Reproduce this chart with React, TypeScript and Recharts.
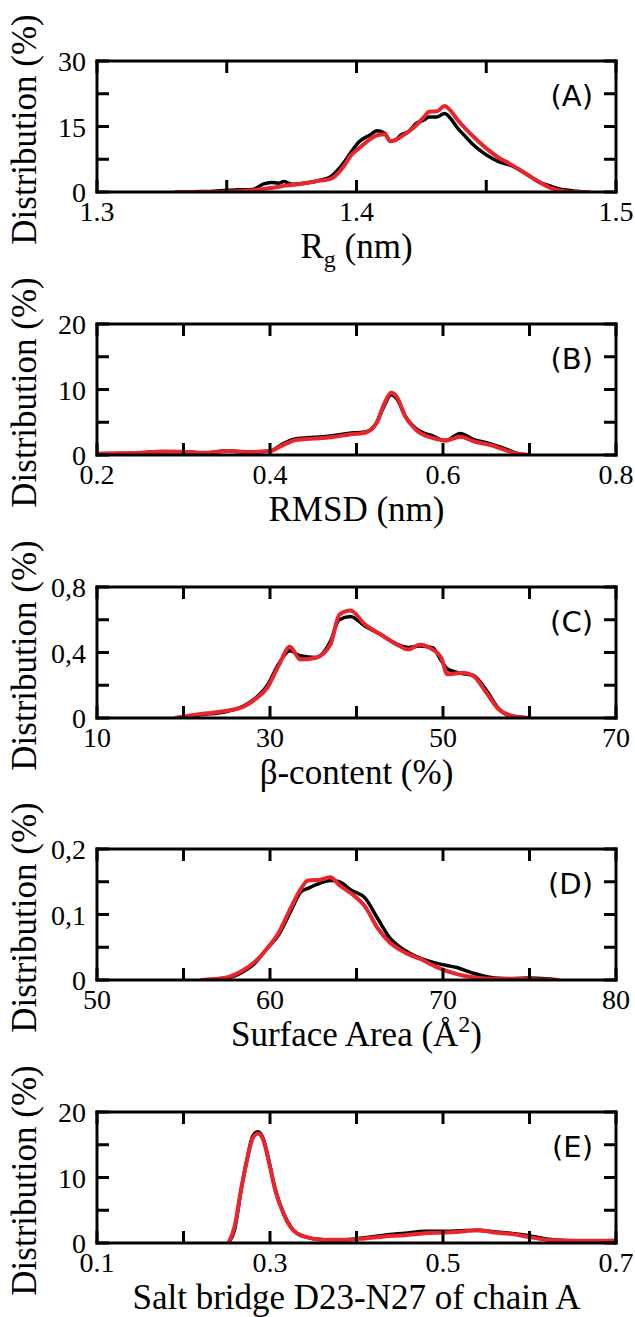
import { LineChart, Line, XAxis, YAxis } from "recharts";

// ---- data ----

// (A) radius of gyration, nm
const rgX = [1.33, 1.34, 1.345, 1.35, 1.355, 1.36, 1.364, 1.367, 1.37, 1.372, 1.375, 1.38, 1.386, 1.39, 1.395, 1.398, 1.401, 1.405, 1.408, 1.411, 1.413, 1.415, 1.417, 1.42, 1.423, 1.426, 1.428, 1.431, 1.434, 1.436, 1.439, 1.442, 1.445, 1.45, 1.455, 1.459, 1.465, 1.47, 1.475, 1.48, 1.485, 1.49];
const rgBlack = [0, 0.1, 0.2, 0.4, 0.5, 0.6, 1.8, 2.2, 2.0, 2.4, 1.8, 2.0, 2.7, 3.5, 6.6, 9.2, 11.5, 13.0, 14.0, 13.4, 11.7, 11.9, 13.0, 13.8, 15.7, 16.5, 17.2, 17.2, 18.0, 17.0, 14.6, 12.7, 10.8, 8.5, 6.9, 6.2, 4.3, 2.4, 1.3, 0.5, 0.2, 0];
const rgRed = [0, 0, 0, 0.1, 0.2, 0.4, 0.7, 0.9, 1.2, 1.4, 1.6, 2.0, 2.6, 3.0, 5.8, 8.5, 10.0, 12.0, 13.0, 13.2, 11.6, 11.9, 12.6, 13.8, 15.3, 17.2, 18.4, 18.5, 19.7, 18.8, 16.5, 14.5, 12.7, 10.0, 7.8, 6.5, 4.3, 2.4, 0.9, 0.2, 0, 0];

// (B) RMSD, nm
const rmsdX = [0.2, 0.22, 0.25, 0.275, 0.3, 0.325, 0.35, 0.375, 0.4, 0.415, 0.43, 0.45, 0.47, 0.49, 0.51, 0.523, 0.532, 0.54, 0.547, 0.556, 0.57, 0.588, 0.603, 0.62, 0.635, 0.655, 0.673, 0.69, 0.7];
const rmsdBlack = [0.15, 0.2, 0.3, 0.5, 0.5, 0.3, 0.65, 0.4, 0.6, 1.7, 2.5, 2.7, 2.9, 3.3, 3.5, 4.9, 7.5, 9.2, 8.5, 6.0, 3.9, 2.9, 2.2, 3.3, 2.4, 1.7, 0.9, 0.1, 0];
const rmsdRed = [0.2, 0.25, 0.35, 0.55, 0.5, 0.35, 0.6, 0.45, 0.6, 1.5, 2.3, 2.5, 2.7, 3.1, 3.4, 4.8, 7.8, 9.5, 8.8, 6.0, 3.7, 2.6, 2.2, 2.8, 2.1, 1.5, 0.7, 0.1, 0];

// (C) beta content, %
const betaX = [19, 22, 25, 27, 28.3, 29.7, 31, 32.3, 33.5, 35.3, 37, 38, 39.3, 41, 42.8, 44.7, 46, 47.3, 48.8, 49.8, 50.5, 52.4, 53.5, 55, 56.4, 57.7, 60];
const betaBlack = [0, 0.02, 0.04, 0.075, 0.12, 0.2, 0.33, 0.41, 0.38, 0.37, 0.47, 0.6, 0.62, 0.56, 0.51, 0.45, 0.43, 0.44, 0.43, 0.35, 0.3, 0.27, 0.26, 0.17, 0.06, 0.015, 0];
const betaRed = [0, 0.024, 0.044, 0.07, 0.115, 0.186, 0.32, 0.435, 0.357, 0.368, 0.45, 0.63, 0.656, 0.57, 0.51, 0.448, 0.418, 0.448, 0.418, 0.368, 0.267, 0.277, 0.257, 0.156, 0.055, 0.018, 0];

// (D) surface area, A^2
const sasaX = [56, 57.5, 58.4, 59.1, 59.8, 60.5, 61.2, 61.8, 62.2, 62.9, 63.5, 64.0, 64.7, 65.5, 66.2, 66.9, 67.8, 68.7, 69.7, 70.8, 71.8, 73, 74, 75, 76.7];
const sasaBlack = [0, 0.003, 0.012, 0.025, 0.047, 0.069, 0.105, 0.135, 0.14, 0.148, 0.152, 0.15, 0.137, 0.125, 0.095, 0.065, 0.045, 0.033, 0.025, 0.019, 0.01, 0.003, 0.002, 0.003, 0];
const sasaRed = [0, 0.004, 0.014, 0.027, 0.047, 0.072, 0.11, 0.14, 0.152, 0.153, 0.157, 0.145, 0.132, 0.112, 0.08, 0.058, 0.042, 0.032, 0.019, 0.009, 0.004, 0.002, 0.002, 0.001, 0];

// (E) salt bridge distance, nm
const saltX = [0.252, 0.259, 0.2665, 0.2735, 0.28, 0.286, 0.292, 0.299, 0.306, 0.3155, 0.325, 0.339, 0.362, 0.386, 0.409, 0.4325, 0.456, 0.479, 0.503, 0.526, 0.54, 0.559, 0.5775, 0.596, 0.62, 0.643, 0.666, 0.7];
const saltBlack = [0, 2.0, 8.0, 12.8, 16.3, 17.0, 16.0, 12.4, 8.2, 4.6, 2.3, 1.0, 0.5, 0.5, 0.8, 1.2, 1.5, 1.8, 1.8, 1.9, 1.9, 1.7, 1.5, 1.2, 0.6, 0.3, 0.2, 0.2];
const saltRed = [0, 2.5, 8.1, 12.7, 16.0, 16.7, 15.8, 12.2, 8.1, 4.5, 2.2, 1.0, 0.5, 0.5, 0.7, 1.0, 1.2, 1.5, 1.6, 1.8, 2.0, 1.6, 1.4, 1.0, 0.5, 0.4, 0.35, 0.4];

// ticks (minor ticks have an empty label)
const rgTicks = [1.3, 1.35, 1.4, 1.45, 1.5];
const rgTickLabels = ["1.3", "", "1.4", "", "1.5"];
const rmsdTicks = [0.2, 0.3, 0.4, 0.5, 0.6, 0.7, 0.8];
const rmsdTickLabels = ["0.2", "", "0.4", "", "0.6", "", "0.8"];
const betaTicks = [10, 20, 30, 40, 50, 60, 70];
const betaTickLabels = ["10", "", "30", "", "50", "", "70"];
const sasaTicks = [50, 55, 60, 65, 70, 75, 80];
const sasaTickLabels = ["50", "", "60", "", "70", "", "80"];
const saltTicks = [0.1, 0.2, 0.3, 0.4, 0.5, 0.6, 0.7];
const saltTickLabels = ["0.1", "", "0.3", "", "0.5", "", "0.7"];

const y30Ticks = [0, 7.5, 15, 22.5, 30];
const y30Labels = ["0", "", "15", "", "30"];
const y20Ticks = [0, 5, 10, 15, 20];
const y20Labels = ["0", "", "10", "", "20"];
const y08Ticks = [0, 0.2, 0.4, 0.6, 0.8];
const y08Labels = ["0", "", "0,4", "", "0,8"];
const y02Ticks = [0, 0.05, 0.1, 0.15, 0.2];
const y02Labels = ["0", "", "0,1", "", "0,2"];

const panelLetters = ["(A)", "(B)", "(C)", "(D)", "(E)"];

// ---- layout ----
const W = 635;
const FRAME_LEFT = 97;
const FRAME_RIGHT = 616;
const FRAME_H = 131;
const PAD_TOP = 20;
const PAD_BOTTOM = 45;
const AX = 1; // axis thickness reserved by recharts
const frameTops = [61, 324, 587, 849, 1112];
const SERIF = "Liberation Serif, Times New Roman, serif";
const BLACK = "#000000";
const RED = "#e8262b";
const TITLE_FONT = 35;

const zip = (xs: number[], a: number[], b: number[]) =>
  xs.map((x, i) => ({ x, black: a[i], red: b[i] }));

const panels = [
  { data: zip(rgX, rgBlack, rgRed), xDomain: [1.3, 1.5], xTicks: rgTicks, xLabels: rgTickLabels, yDomain: [0, 30], yTicks: y30Ticks, yLabels: y30Labels },
  { data: zip(rmsdX, rmsdBlack, rmsdRed), xDomain: [0.2, 0.8], xTicks: rmsdTicks, xLabels: rmsdTickLabels, yDomain: [0, 20], yTicks: y20Ticks, yLabels: y20Labels },
  { data: zip(betaX, betaBlack, betaRed), xDomain: [10, 70], xTicks: betaTicks, xLabels: betaTickLabels, yDomain: [0, 0.8], yTicks: y08Ticks, yLabels: y08Labels },
  { data: zip(sasaX, sasaBlack, sasaRed), xDomain: [50, 80], xTicks: sasaTicks, xLabels: sasaTickLabels, yDomain: [0, 0.2], yTicks: y02Ticks, yLabels: y02Labels },
  { data: zip(saltX, saltBlack, saltRed), xDomain: [0.1, 0.7], xTicks: saltTicks, xLabels: saltTickLabels, yDomain: [0, 20], yTicks: y20Ticks, yLabels: y20Labels },
];

const labelFor = (ticks: number[], labels: string[], v: number) => {
  const i = ticks.findIndex((t) => Math.abs(t - v) < 1e-9);
  return i >= 0 ? labels[i] : "";
};

const TICK_LEN = 12;
const TICK_FONT = 28;

function makeTick(side: "bottom" | "top" | "left" | "right", ticks: number[], labels: string[]) {
  return (props: any) => {
    const { x, y, payload } = props;
    const label = side === "bottom" || side === "left" ? labelFor(ticks, labels, payload.value) : "";
    let line;
    if (side === "bottom") line = { x1: x, y1: y, x2: x, y2: y - TICK_LEN };
    else if (side === "top") line = { x1: x, y1: y, x2: x, y2: y + TICK_LEN };
    else if (side === "left") line = { x1: x, y1: y, x2: x + TICK_LEN, y2: y };
    else line = { x1: x, y1: y, x2: x - TICK_LEN, y2: y };
    return (
      <g>
        <line {...line} stroke={BLACK} strokeWidth={3} />
        {label && side === "bottom" && (
          <text x={x} y={y + 29} textAnchor="middle" fontFamily={SERIF} fontSize={TICK_FONT} fill={BLACK}>
            {label}
          </text>
        )}
        {label && side === "left" && (
          <text x={x - 11} y={y + 10} textAnchor="end" fontFamily={SERIF} fontSize={TICK_FONT} fill={BLACK}>
            {label}
          </text>
        )}
      </g>
    );
  };
}

const frameLine = { stroke: BLACK, strokeWidth: 3, strokeLinecap: "square" as const };

function Panel({ p, top }: { p: (typeof panels)[number]; top: number }) {
  return (
    <div style={{ position: "absolute", left: 0, top: top - PAD_TOP }}>
      <LineChart
        width={W}
        height={PAD_TOP + FRAME_H + PAD_BOTTOM}
        data={p.data}
        margin={{ top: PAD_TOP - AX, bottom: PAD_BOTTOM - AX, left: FRAME_LEFT - AX, right: W - FRAME_RIGHT - AX }}
      >
        <XAxis dataKey="x" type="number" domain={p.xDomain} ticks={p.xTicks} interval={0} height={AX} tickSize={0} tickMargin={0} tickLine={false} axisLine={frameLine} tick={makeTick("bottom", p.xTicks, p.xLabels)} allowDataOverflow />
        <XAxis xAxisId="top" orientation="top" dataKey="x" type="number" domain={p.xDomain} ticks={p.xTicks} interval={0} height={AX} tickSize={0} tickMargin={0} tickLine={false} axisLine={frameLine} tick={makeTick("top", p.xTicks, p.xLabels)} allowDataOverflow />
        <YAxis type="number" domain={p.yDomain} ticks={p.yTicks} interval={0} width={AX} tickSize={0} tickMargin={0} tickLine={false} axisLine={frameLine} tick={makeTick("left", p.yTicks, p.yLabels)} allowDataOverflow />
        <YAxis yAxisId="right" orientation="right" type="number" domain={p.yDomain} ticks={p.yTicks} interval={0} width={AX} tickSize={0} tickMargin={0} tickLine={false} axisLine={frameLine} tick={makeTick("right", p.yTicks, p.yLabels)} allowDataOverflow />
        <Line type="monotone" dataKey="black" stroke={BLACK} strokeWidth={3.5} dot={false} activeDot={false} isAnimationActive={false} strokeLinejoin="round" />
        <Line type="monotone" dataKey="red" stroke={RED} strokeWidth={4} dot={false} activeDot={false} isAnimationActive={false} strokeLinejoin="round" />
      </LineChart>
    </div>
  );
}

export default function App() {
  const cx = (FRAME_LEFT + FRAME_RIGHT) / 2;
  const titleY = (i: number) => frameTops[i] + FRAME_H + 66;
  return (
    <div style={{ position: "absolute", left: 0, top: 0, width: W, height: 1317, background: "#fff", overflow: "hidden" }}>
      {panels.map((p, i) => (
        <Panel key={i} p={p} top={frameTops[i]} />
      ))}
      <svg width={W} height={1317} style={{ position: "absolute", left: 0, top: 0, pointerEvents: "none" }}>
        {frameTops.map((t, i) => (
          <g key={i}>
            <text transform={`translate(36,${t + FRAME_H / 2 + 3}) rotate(-90)`} textAnchor="middle" fontFamily={SERIF} fontSize={TITLE_FONT} fill={BLACK}>
              Distribution (%)
            </text>
            <text x={593} y={t + 45} textAnchor="end" fontFamily="DejaVu Sans, sans-serif" fontSize={29} fill={BLACK}>
              {panelLetters[i]}
            </text>
          </g>
        ))}
        <text x={cx} y={titleY(0)} textAnchor="middle" fontFamily={SERIF} fontSize={TITLE_FONT} fill={BLACK}>
          R<tspan fontSize={24} dy={9}>g</tspan>
          <tspan dy={-9}> (nm)</tspan>
        </text>
        <text x={cx} y={titleY(1)} textAnchor="middle" fontFamily={SERIF} fontSize={TITLE_FONT} fill={BLACK}>
          RMSD (nm)
        </text>
        <text x={cx} y={titleY(2)} textAnchor="middle" fontFamily={SERIF} fontSize={TITLE_FONT} fill={BLACK}>
          β-content (%)
        </text>
        <text x={cx} y={titleY(3)} textAnchor="middle" fontFamily={SERIF} fontSize={TITLE_FONT} fill={BLACK}>
          Surface Area (Å<tspan fontSize={24} dy={-14}>2</tspan>
          <tspan dy={14}>)</tspan>
        </text>
        <text x={cx} y={titleY(4)} textAnchor="middle" fontFamily={SERIF} fontSize={TITLE_FONT} fill={BLACK}>
          Salt bridge D23-N27 of chain A
        </text>
      </svg>
    </div>
  );
}
